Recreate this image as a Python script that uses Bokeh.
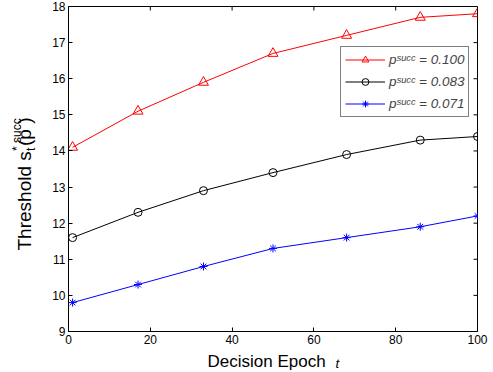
import math
from bokeh.plotting import figure
from bokeh.models import Range1d, FixedTicker, Label, Legend, LegendItem
from bokeh.embed import file_html
from bokeh.resources import INLINE

epochs = [1, 17, 33, 50, 68, 86, 100]
p100 = [14.1, 15.1, 15.9, 16.7, 17.2, 17.7, 17.8]
p083 = [11.6, 12.3, 12.9, 13.4, 13.9, 14.3, 14.4]
p071 = [9.8, 10.3, 10.8, 11.3, 11.6, 11.9, 12.2]
legend_labels = ["p\u02e2\u1d58\u1d9c\u1d9c = 0.100",
                 "p\u02e2\u1d58\u1d9c\u1d9c = 0.083",
                 "p\u02e2\u1d58\u1d9c\u1d9c = 0.071"]
x_ticks = [0, 20, 40, 60, 80, 100]
y_ticks = [9, 10, 11, 12, 13, 14, 15, 16, 17, 18]
x_lo, x_hi = 0, 100
y_lo, y_hi = 9, 18

FONT = "Liberation Sans"

p = figure(width=493, height=372, output_backend="svg", toolbar_location=None,
           x_range=Range1d(x_lo, x_hi), y_range=Range1d(y_lo, y_hi),
           min_border_left=66, min_border_right=16, min_border_top=6, min_border_bottom=41)
p.background_fill_color = "white"
p.border_fill_color = "white"
p.outline_line_color = "black"
p.outline_line_width = 1
p.grid.visible = False

for ax, ticks in ((p.xaxis[0], x_ticks), (p.yaxis[0], y_ticks)):
    ax.ticker = FixedTicker(ticks=ticks)
    ax.major_tick_in = 4
    ax.major_tick_out = 0
    ax.minor_tick_line_color = None
    ax.axis_line_color = "black"
    ax.major_tick_line_color = "black"
    ax.major_label_text_font = FONT
    ax.major_label_text_font_size = "12px"
    ax.major_label_text_color = "black"
    ax.major_label_standoff = 3

# inward ticks on the top and right edges of the box
p.ray(x=x_ticks, y=[y_hi] * len(x_ticks), length=4, length_units="screen",
      angle=-math.pi / 2, line_color="black", line_width=1)
p.ray(x=[x_hi] * len(y_ticks), y=y_ticks, length=4, length_units="screen",
      angle=math.pi, line_color="black", line_width=1)

r1 = p.line(epochs, p100, color="#ff0000", line_width=1)
m1 = p.scatter(epochs, p100, marker="triangle", size=10, line_color="#ff0000", fill_color=None)
r2 = p.line(epochs, p083, color="black", line_width=1)
m2 = p.scatter(epochs, p083, marker="circle", size=8, line_color="black", fill_color=None)
r3 = p.line(epochs, p071, color="#0000ff", line_width=1)
m3 = p.scatter(epochs, p071, marker="asterisk", size=8, line_color="#0000ff")

legend = Legend(items=[LegendItem(label=legend_labels[0], renderers=[r1, m1]),
                       LegendItem(label=legend_labels[1], renderers=[r2, m2]),
                       LegendItem(label=legend_labels[2], renderers=[r3, m3])],
                location=(272, 214))
legend.label_text_font = FONT
legend.label_text_font_style = "italic"
legend.label_text_font_size = "13.5px"
legend.border_line_color = "black"
legend.border_line_width = 1
legend.glyph_width = 40
legend.glyph_height = 17
legend.label_height = 17
legend.label_standoff = 4
legend.spacing = 5
legend.padding = 4
legend.margin = 0
legend.background_fill_alpha = 1
p.add_layout(legend, "center")


def side_label(side, txt, x, y, size, angle=0.0, style="normal"):
    # x, y: offsets (px) from the left / bottom of the label's own side panel
    p.add_layout(Label(x=x, y=y, x_units="screen", y_units="screen", text=txt,
                       angle=angle, text_font=FONT, text_font_size=size, text_font_style=style,
                       text_align="left", text_baseline="alphabetic", text_color="black"), side)


up = math.pi / 2
# y-axis title: Threshold s_t^*(p^succ)  (main line, superscripts, subscript)
side_label("left", "Threshold s (p      )", -4.0, 81, "19px", up)
side_label("left", "*      succ", 2.0, 180.5, "12px", up)
side_label("left", "t", 30.7, 180.5, "12px", up)

# x-axis title: Decision Epoch  t
side_label("below", "Decision Epoch", 139, 4.3, "17px")
side_label("right", "t", -142, -32, "13.5px", 0.0, "italic")

open("out.html", "w").write(file_html(p, INLINE))
